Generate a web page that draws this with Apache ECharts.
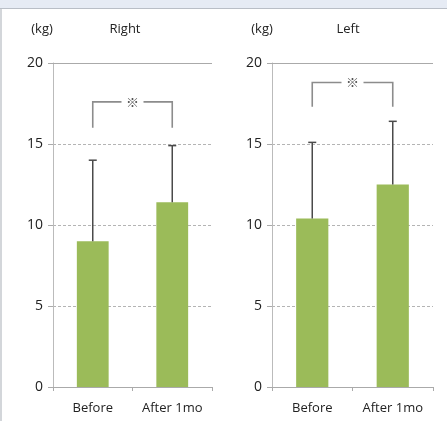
<!DOCTYPE html>
<html><head><meta charset="utf-8">
<script src="https://cdn.jsdelivr.net/npm/echarts@6/dist/echarts.min.js"></script>
<style>html,body{margin:0;padding:0;background:#fff}#c{width:447px;height:421px}</style>
</head><body><div id="c"></div>
<script>
const categories = ['Before', 'After 1mo'];
const yTicks = [0, 5, 10, 15, 20];
const panelTitles = ['Right', 'Left'];
const unitLabel = '(kg)';
const rightMeans = [9.0, 11.4];
const rightSD = [5.0, 3.5];
const leftMeans = [10.4, 12.5];
const leftSD = [4.7, 3.9];
// bracket: [from category, to category, leg bottom value, top value]
const rightBracket = [0, 1, 16.0, 17.6];
const leftBracket = [0, 1, 17.3, 18.8];
const sigMark = '※';

const FONT = '"Open Sans", sans-serif';
const chart = echarts.init(document.getElementById('c'));

function errRender(params, api) {
  const x = api.value(0), m = api.value(1), sd = api.value(2);
  const p0 = api.coord([x, m]), p1 = api.coord([x, m + sd]);
  const st = {stroke: '#4a4a4a', lineWidth: 1.5};
  return {type: 'group', children: [
    {type: 'line', shape: {x1: p0[0], y1: p0[1], x2: p1[0], y2: p1[1]}, style: st},
    {type: 'line', shape: {x1: p1[0] - 4, y1: p1[1], x2: p1[0] + 4, y2: p1[1]}, style: st}
  ]};
}
function bracketRender(params, api) {
  const a = api.value(0), b = api.value(1), lo = api.value(2), hi = api.value(3);
  const pa = api.coord([a, hi]), pb = api.coord([b, hi]);
  const qa = api.coord([a, lo]), qb = api.coord([b, lo]);
  const mid = (pa[0] + pb[0]) / 2, gap = 11;
  const st = {stroke: '#8c8c8c', lineWidth: 1.6, fill: null};
  return {type: 'group', children: [
    {type: 'polyline', shape: {points: [[qa[0], qa[1]], [pa[0], pa[1]], [mid - gap, pa[1]]]}, style: st},
    {type: 'polyline', shape: {points: [[mid + gap, pb[1]], [pb[0], pb[1]], [qb[0], qb[1]]]}, style: st},
    {type: 'text', style: {text: sigMark, x: mid, y: pa[1], align: 'center', verticalAlign: 'middle', fill: '#555', font: 'bold 13px "Noto Sans CJK JP"'}}
  ]};
}

function xAxisCfg(i) {
  return {type: 'category', gridIndex: i, data: categories,
    axisLine: {lineStyle: {color: '#aaa', width: 1}},
    axisTick: {show: true, length: 4, lineStyle: {color: '#aaa'}},
    axisLabel: {color: '#222', fontSize: 13, fontFamily: FONT, margin: 15}};
}
function yAxisCfg(i) {
  return {type: 'value', gridIndex: i, min: 0, max: 20, interval: 5,
    axisLine: {show: true, lineStyle: {color: '#bbb', width: 1}},
    axisTick: {show: true, length: 5, lineStyle: {color: '#aaa'}},
    axisLabel: {color: '#222', fontSize: 14, fontFamily: FONT, margin: 10,
      formatter: v => yTicks.includes(v) ? String(v) : ''},
    splitLine: {show: true, lineStyle: {color: '#b4b4b4', type: [3, 2], width: 1}}};
}
function seriesFor(i, means, sd, br) {
  return [
    {type: 'bar', xAxisIndex: i, yAxisIndex: i, data: means, barWidth: '40%',
      itemStyle: {color: '#9bbb59'}, z: 2,
      markLine: {silent: true, symbol: 'none', label: {show: false},
        lineStyle: {color: '#aaa', type: 'solid', width: 1}, data: [{yAxis: 20}]}},
    {type: 'custom', xAxisIndex: i, yAxisIndex: i, renderItem: errRender, z: 3,
      data: means.map((m, k) => [k, m, sd[k]])},
    {type: 'custom', xAxisIndex: i, yAxisIndex: i, renderItem: bracketRender, z: 3,
      clip: false, data: [br]}
  ];
}

chart.setOption({
  animation: false,
  backgroundColor: '#fff',
  grid: [
    {left: 53, top: 63, width: 159, bottom: 34},
    {left: 272, top: 63, width: 161, bottom: 34}
  ],
  xAxis: [xAxisCfg(0), xAxisCfg(1)],
  yAxis: [yAxisCfg(0), yAxisCfg(1)],
  series: [].concat(seriesFor(0, rightMeans, rightSD, rightBracket), seriesFor(1, leftMeans, leftSD, leftBracket)),
  graphic: [
    {type: 'rect', left: 0, top: 0, shape: {width: 447, height: 8}, style: {fill: '#e6ebf4'}, silent: true},
    {type: 'line', shape: {x1: 0, y1: 8.5, x2: 447, y2: 8.5}, style: {stroke: '#b9bec6', lineWidth: 1}, silent: true},
    {type: 'line', shape: {x1: 1, y1: 9, x2: 1, y2: 421}, style: {stroke: '#c4c8ce', lineWidth: 1.5}, silent: true},
    {type: 'text', x: 42, y: 29, style: {text: unitLabel, align: 'center', verticalAlign: 'middle', fontSize: 13, fontFamily: FONT, fill: '#222'}},
    {type: 'text', x: 125, y: 29, style: {text: panelTitles[0], align: 'center', verticalAlign: 'middle', fontSize: 13, fontFamily: FONT, fill: '#222'}},
    {type: 'text', x: 262, y: 29, style: {text: unitLabel, align: 'center', verticalAlign: 'middle', fontSize: 13, fontFamily: FONT, fill: '#222'}},
    {type: 'text', x: 348, y: 29, style: {text: panelTitles[1], align: 'center', verticalAlign: 'middle', fontSize: 13, fontFamily: FONT, fill: '#222'}}
  ]
});
</script></body></html>
